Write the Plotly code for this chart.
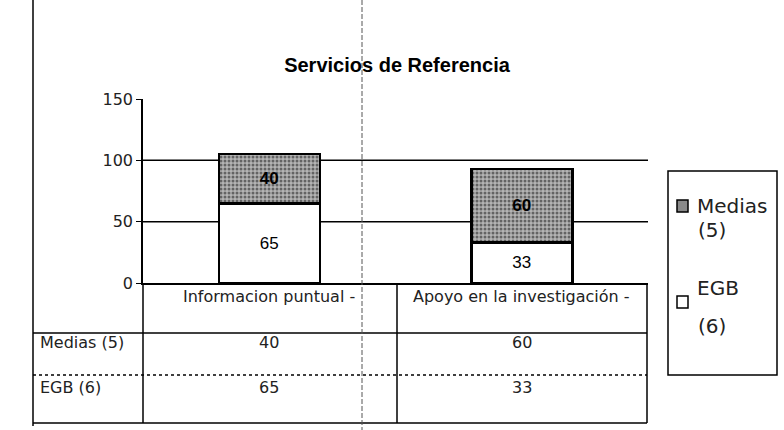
import plotly.graph_objects as go

# ── Data ──────────────────────────────────────────────────────────────
categorias = ["Informacion puntual -", "Apoyo en la investigación -"]
series = ["EGB (6)", "Medias (5)"]
egb = [65, 33]
medias = [40, 60]
y_ticks = [0, 50, 100, 150]
lineas_guia = [50, 100]

W, H = 784, 430
L, R, T, B = 143, 648, 99, 283   # plot area in pixels

FONT_TABLA = "DejaVu Sans, Verdana, sans-serif"
FONT_NARROW = "Liberation Sans Narrow, Arial Narrow, Liberation Sans, Arial"
TXT = "#222"


def px(x):
    return (x - L) / (R - L)


def py(y):
    return (B - y) / (B - T)


fig = go.Figure()

fig.add_trace(go.Bar(
    x=categorias, y=egb, name=series[0],
    marker=dict(color="white", line=dict(color="black", width=2.5)),
    text=egb, textposition="inside", insidetextanchor="middle",
    textfont=dict(family=FONT_NARROW, size=17, color="black"),
    showlegend=False,
))
fig.add_trace(go.Bar(
    x=categorias, y=medias, name=series[1],
    marker=dict(color="#a8a8a8",
                line=dict(color="black", width=2.5),
                pattern=dict(shape=".", fgcolor="#111", bgcolor="#b4b4b4",
                             size=4, solidity=0.45)),
    text=medias, texttemplate="<b>%{text}</b>",
    textposition="inside", insidetextanchor="middle",
    textfont=dict(family=FONT_NARROW, size=17, color="black"),
    showlegend=False,
))

shapes = []
annotations = []

# gridlines (none at 150)
for v in lineas_guia:
    shapes.append(dict(type="line", xref="paper", yref="y", x0=0, x1=1, y0=v, y1=v,
                       line=dict(color="black", width=1.5), layer="below"))

# ── data table underneath ────────────────────────────────────────────
fila_cab = (283, 333)
filas = [(333, 375), (375, 423)]
tabla_izq, tabla_der, col_div = 33, 647, 397


def hline(y, x0, x1, dash="solid"):
    shapes.append(dict(type="line", xref="paper", yref="paper",
                       x0=px(x0), x1=px(x1), y0=py(y), y1=py(y),
                       line=dict(color="black", width=1.5, dash=dash)))


def vline(x, y0, y1, dash="solid", color="black", width=1.5):
    shapes.append(dict(type="line", xref="paper", yref="paper",
                       x0=px(x), x1=px(x), y0=py(y0), y1=py(y1),
                       line=dict(color=color, width=width, dash=dash)))


hline(fila_cab[1], tabla_izq, tabla_der)
hline(filas[0][1], tabla_izq, tabla_der, dash="dot")
hline(filas[1][1], tabla_izq, tabla_der)
vline(L, fila_cab[0], filas[1][1])
vline(col_div, fila_cab[0], filas[1][1])
vline(tabla_der, fila_cab[0], filas[1][1])
vline(tabla_izq, 0, 426)                                       # frame line, left
vline(362, 0, 430, dash="5px,2px", color="#555", width=1)      # fold mark of the scan

for cat in categorias:
    annotations.append(dict(x=cat, xref="x", y=py(sum(fila_cab) / 2), yref="paper",
                            text=cat, showarrow=False,
                            font=dict(family=FONT_TABLA, size=16, color=TXT)))

valores = [medias, egb]
nombres_filas = [series[1], series[0]]
for (y0, y1), nombre, vals in zip(filas, nombres_filas, valores):
    yc = py((y0 + y1) / 2)
    annotations.append(dict(x=px(38), xref="paper", y=yc, yref="paper",
                            text=nombre, showarrow=False, xanchor="left",
                            font=dict(family=FONT_TABLA, size=16, color=TXT)))
    for cat, v in zip(categorias, vals):
        annotations.append(dict(x=cat, xref="x", y=yc, yref="paper",
                                text=str(v), showarrow=False,
                                font=dict(family=FONT_TABLA, size=16, color=TXT)))

# ── legend (Medias on top) ───────────────────────────────────────────
shapes.append(dict(type="rect", xref="paper", yref="paper",
                   x0=px(668), x1=px(777), y0=py(171), y1=py(375),
                   line=dict(color="black", width=1.5)))
leyenda_y = [206, 302]
for nombre, yy, col in zip(nombres_filas, leyenda_y, ["#8a8a8a", "white"]):
    shapes.append(dict(type="rect", xref="paper", yref="paper",
                       x0=px(677), x1=px(688), y0=py(yy - 6), y1=py(yy + 6),
                       fillcolor=col, line=dict(color="black", width=1.5)))
    palabra, cuenta = nombre.split(" ")
    annotations.append(dict(x=px(695), xref="paper", y=py(yy), yref="paper",
                            text=palabra, showarrow=False, xanchor="left",
                            font=dict(family=FONT_TABLA, size=20, color=TXT)))
    annotations.append(dict(x=px(696), xref="paper", y=py(yy + 38), yref="paper",
                            text=cuenta, showarrow=False, xanchor="left",
                            font=dict(family=FONT_TABLA, size=20, color=TXT)))

# page heading, cut off at the top edge of the scan
annotations.append(dict(x=px(0), xref="paper", y=py(6), yref="paper",
                        text="<b>Gráfico nº 66</b>", showarrow=False,
                        xanchor="left", yanchor="bottom",
                        font=dict(family="Liberation Sans, Arial", size=20, color="black")))

fig.update_layout(
    width=W, height=H,
    margin=dict(l=L, r=W - R, t=T, b=H - B),
    paper_bgcolor="white", plot_bgcolor="white",
    barmode="stack", bargap=0.6,
    title=dict(text="<b>Servicios de Referencia</b>",
               x=px(397), xref="paper", xanchor="center",
               y=1 - 65 / H, yanchor="middle",
               font=dict(family=FONT_NARROW, size=20, color="black")),
    shapes=shapes, annotations=annotations,
    showlegend=False,
)
fig.update_xaxes(showticklabels=False, showgrid=False, showline=True,
                 linecolor="black", linewidth=1.5, ticks="")
fig.update_yaxes(range=[0, 150], tickvals=y_ticks, showgrid=False,
                 showline=True, linecolor="black", linewidth=1.5,
                 ticks="outside", ticklen=5, tickcolor="black",
                 tickfont=dict(family=FONT_TABLA, size=16, color=TXT),
                 zeroline=False)

fig.write_html("out.html", config={"displayModeBar": False},
               post_script="document.body.style.margin = '0';")
